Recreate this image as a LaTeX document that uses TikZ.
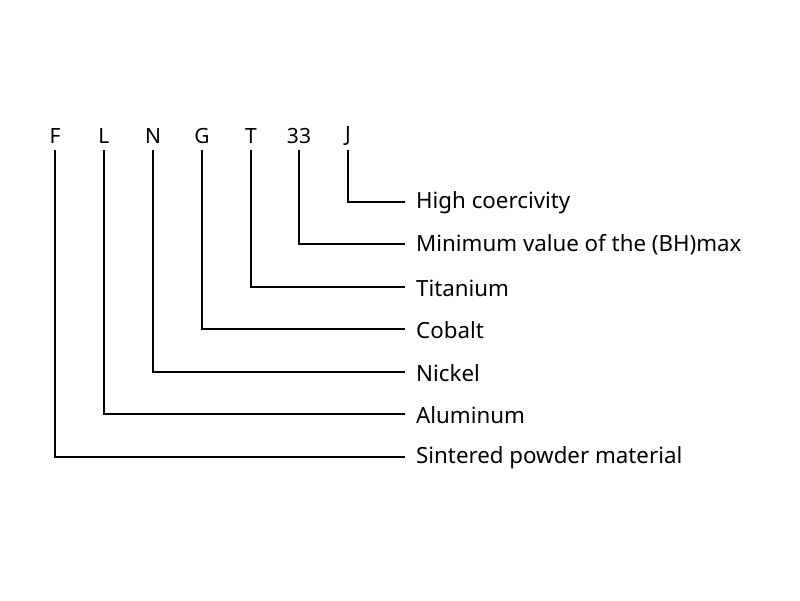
\documentclass[tikz,border=0pt]{standalone}
\usepackage{fontspec}
\setmainfont{Noto Sans}
\begin{document}
\begin{tikzpicture}[x=1pt,y=-1pt,
  code/.style={font=\fontsize{21}{22}\selectfont, inner sep=0pt},
  lab/.style={font=\fontsize{22.3}{24}\selectfont, anchor=west, inner sep=0pt},
  conn/.style={line width=1.4pt}]
\useasboundingbox (0,0) rectangle (800,600);
\fill[white] (0,0) rectangle (800,600);
\foreach \n/\t/\x in {f/F/55,l/L/104,n/N/153,g/G/202,t/T/251,m/33/299,j/J/348}
  \node[code] (\n) at (\x,136) {\t};
\foreach \n/\t/\y in {a/High coercivity/203,b/Minimum value of the (BH)max/245,c/Titanium/288,d/Cobalt/330,e/Nickel/373,h/Aluminum/415,k/Sintered powder material/458}
  \node[lab] (\n) at (416,\y) {\t};
\foreach \s/\d/\y in {j/a/202,m/b/244,t/c/287,g/d/329,n/e/372,l/h/414,f/k/457}
  \draw[conn] ([yshift=-14pt]\s.center) |- (405,\y);
\end{tikzpicture}
\end{document}
